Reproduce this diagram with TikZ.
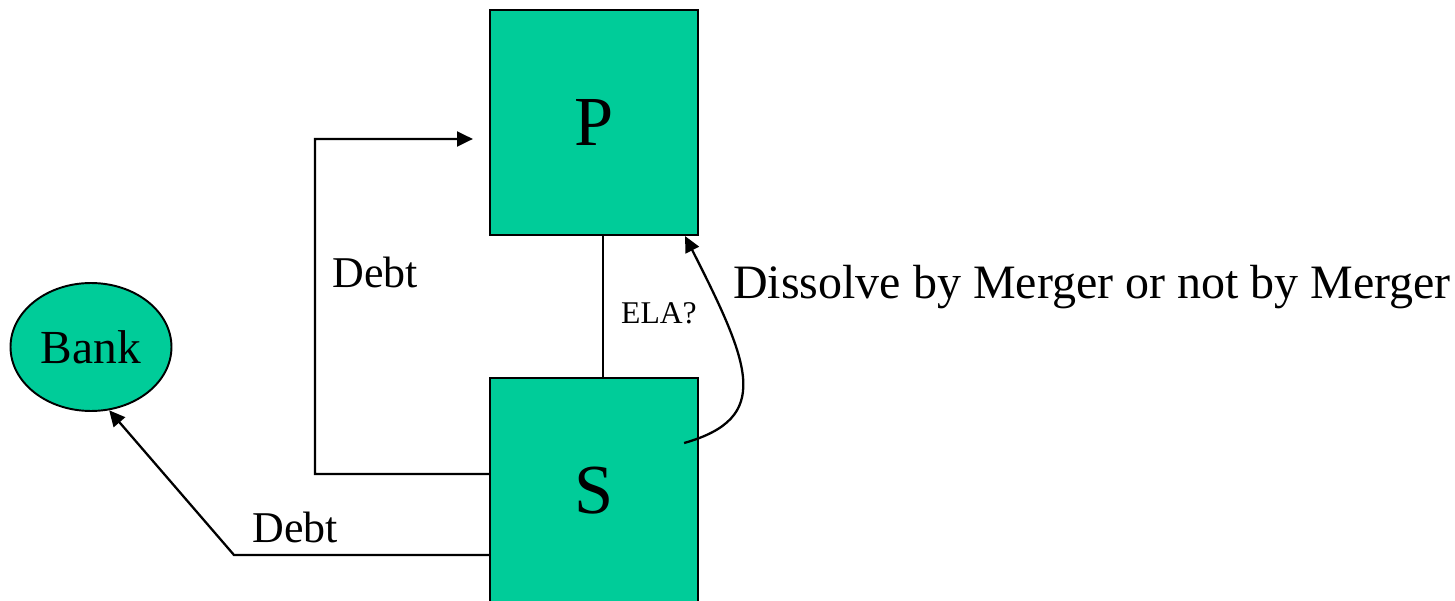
\documentclass[tikz,border=0pt]{standalone}
\usepackage{fontspec}
\setmainfont{Liberation Serif}
\usepackage{tikz}
\usetikzlibrary{shapes.geometric,arrows.meta}
\definecolor{firmgreen}{RGB}{0,204,153}
\tikzset{
  font={\fontsize{25pt}{28}\selectfont},
  firm/.style={draw=black,fill=firmgreen,line width=1.3pt,minimum width=4.16cm,minimum height=4.5cm},
  lender/.style={ellipse,draw=black,fill=firmgreen,line width=1.1pt,minimum width=3.22cm,minimum height=2.56cm},
  flow/.style={line width=1.3pt,-{Triangle[length=9pt,width=8.5pt]}}}

\begin{document}
\begin{tikzpicture}[x=0.02cm,y=-0.02cm]
\useasboundingbox (0,0) rectangle (1455,601);
\tikzstyle{every node}+=[inner sep=0pt]
\node [firm] (P) at (594,122.5) {\fontsize{40pt}{42}\selectfont P};
\node [firm] (S) at (594,490.5) {\fontsize{40pt}{42}\selectfont S};
\node [lender] (Bank) at (91,347) {\fontsize{27pt}{30}\selectfont Bank};
\coordinate (debtbend) at (315,139);
\coordinate (bankbend) at (234,555);
\draw [line width=1.3pt] ([xshift=0.18cm]P.south) -- ([xshift=0.18cm]S.north);
\draw [flow] ([yshift=0.33cm]S.west) -| (debtbend) -- ([xshift=-0.32cm,yshift=-0.33cm]P.west);
\draw [flow] ([yshift=-1.29cm]S.west) -- (bankbend) -- (Bank.-74);
\draw [flow] ([xshift=-0.3cm,yshift=0.95cm]S.east) .. controls +(88,-25) and +(66,130) .. ([xshift=-0.28cm]P.south east);
\node (debtup) at (375,272) {Debt};
\node (debtdown) at (295,527) {Debt};
\node (ela) at (659,313) {\fontsize{18pt}{20}\selectfont ELA?};
\node [anchor=west] (dissolve) at (733,287) {\fontsize{27.3pt}{30}\selectfont Dissolve by Merger or not by Merger};
\end{tikzpicture}
\end{document}
